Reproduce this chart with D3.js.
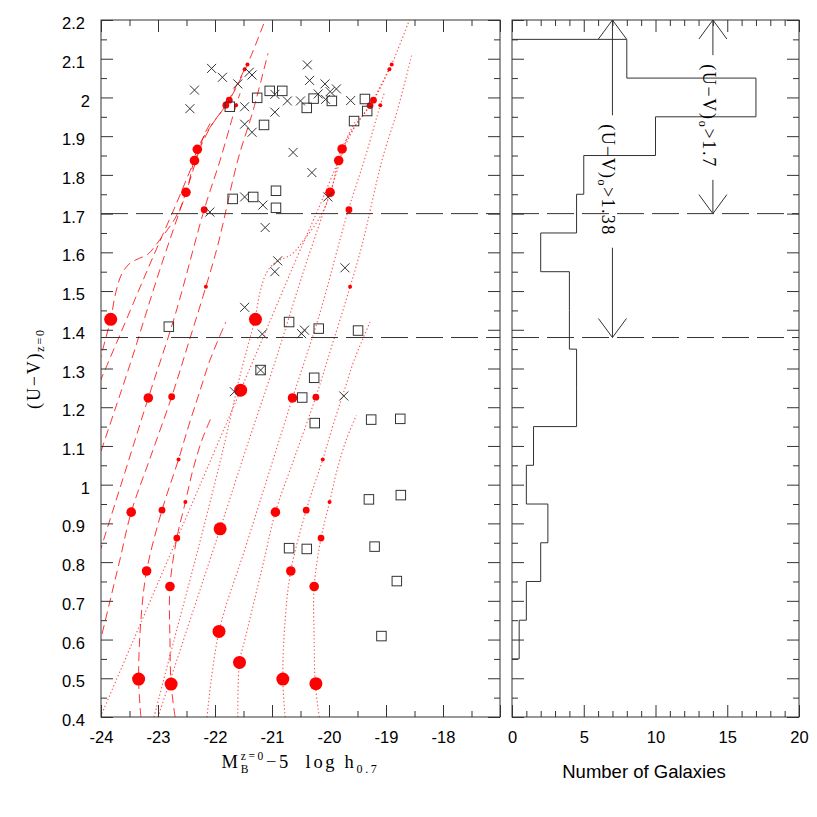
<!DOCTYPE html>
<html><head><meta charset="utf-8">
<script src="https://cdn.jsdelivr.net/npm/d3@7"></script>
<style>body{margin:0;background:#fff} text{white-space:pre}</style>
</head><body>
<svg id="c" width="817" height="817"></svg>
<script>
// ---------------- DATA ----------------
const xTickLabels = [-24,-23,-22,-21,-20,-19,-18];
const yTickLabels = [0.4,0.5,0.6,0.7,0.8,0.9,1,1.1,1.2,1.3,1.4,1.5,1.6,1.7,1.8,1.9,2,2.1,2.2];
const countTickLabels = [0,5,10,15,20];
const colorCuts = [1.38, 1.7];

// model tracks (long-dashed)
const dashedTrack1 = [[-22.70,0.40],[-22.77,0.485],[-22.79,0.598],[-22.79,0.737],[-22.67,0.862],[-22.52,0.955],[-22.39,1.037],[-22.23,1.115],[-22.05,1.179]];
const dashedTrack2 = [[-23.30,0.40],[-23.34,0.498],[-23.30,0.650],[-23.20,0.777],[-22.93,0.934],[-22.64,1.065],[-22.46,1.153],[-22.26,1.244],[-22.09,1.321],[-21.81,1.420]];
const dashedTrack3 = [[-24.13,0.40],[-24.10,0.541],[-24.00,0.603],[-23.84,0.701],[-23.67,0.805],[-23.47,0.929],[-23.14,1.068],[-22.76,1.227],[-22.47,1.363],[-22.16,1.511],[-21.95,1.619],[-21.60,1.838],[-21.33,1.967],[-21.07,2.114]];
const dashedTrack4 = [[-24.67,0.40],[-24.46,0.621],[-24.00,0.836],[-23.58,1.032],[-23.17,1.224],[-22.70,1.438],[-22.19,1.710],[-21.91,1.838],[-21.63,1.980],[-21.56,2.011]];
const dashedTrack5 = [[-25.53,0.40],[-24.44,0.886],[-24.00,1.086],[-23.49,1.311],[-22.97,1.554],[-22.51,1.755],[-22.33,1.838],[-22.19,1.903],[-22.05,1.942]];
const dashedTrack6 = [[-26.54,0.40],[-24.08,1.244],[-24.00,1.272],[-23.67,1.386],[-23.32,1.508],[-23.02,1.611],[-22.68,1.725],[-22.36,1.837],[-22.09,1.921],[-21.81,1.980],[-21.48,2.073]];
const dashedTrack7 = [[-25.60,0.40],[-25.25,0.598],[-24.81,0.843],[-24.37,1.102],[-24.11,1.270],[-23.95,1.360],[-23.83,1.427],[-23.74,1.497],[-23.63,1.546],[-23.49,1.572],[-23.32,1.585],[-23.18,1.595],[-22.97,1.632],[-22.70,1.688],[-22.51,1.750],[-22.31,1.866],[-22.05,1.931],[-21.75,1.993],[-21.43,2.086],[-21.11,2.204]];

// model tracks (dotted)
const dottedTrack1 = [[-20.17,0.40],[-20.24,0.485],[-20.26,0.598],[-20.26,0.737],[-20.14,0.862],[-19.99,0.955],[-19.86,1.037],[-19.70,1.115],[-19.52,1.179]];
const dottedTrack2 = [[-20.77,0.40],[-20.81,0.498],[-20.77,0.650],[-20.67,0.777],[-20.40,0.934],[-20.11,1.065],[-19.93,1.153],[-19.73,1.244],[-19.56,1.321],[-19.28,1.420]];
const dottedTrack3 = [[-21.60,0.40],[-21.57,0.541],[-21.47,0.603],[-21.31,0.701],[-21.14,0.805],[-20.94,0.929],[-20.61,1.068],[-20.23,1.227],[-19.94,1.363],[-19.63,1.511],[-19.42,1.619],[-19.07,1.838],[-18.80,1.967],[-18.54,2.114]];
const dottedTrack4 = [[-22.14,0.40],[-21.93,0.621],[-21.47,0.836],[-21.05,1.032],[-20.64,1.224],[-20.17,1.438],[-19.66,1.710],[-19.38,1.838],[-19.10,1.980],[-19.03,2.011]];
const dottedTrack5 = [[-23.00,0.40],[-21.91,0.886],[-21.47,1.086],[-20.96,1.311],[-20.44,1.554],[-19.98,1.755],[-19.80,1.838],[-19.66,1.903],[-19.52,1.942]];
const dottedTrack6 = [[-24.01,0.40],[-21.55,1.244],[-21.47,1.272],[-21.14,1.386],[-20.79,1.508],[-20.49,1.611],[-20.15,1.725],[-19.83,1.837],[-19.56,1.921],[-19.28,1.980],[-18.95,2.073]];
const dottedTrack7 = [[-23.07,0.40],[-22.72,0.598],[-22.28,0.843],[-21.84,1.102],[-21.58,1.270],[-21.42,1.360],[-21.30,1.427],[-21.21,1.497],[-21.10,1.546],[-20.96,1.572],[-20.79,1.585],[-20.65,1.595],[-20.44,1.632],[-20.17,1.688],[-19.98,1.750],[-19.78,1.866],[-19.52,1.931],[-19.22,1.993],[-18.90,2.086],[-18.58,2.204]];

// model points on the tracks: [M, colour, stage]  (stage 0 = largest symbol)
const dashedModelPoints = [
  [-22.77,0.485,0],[-22.79,0.737,1],[-22.67,0.862,2],[-22.52,0.955,3],
  [-23.34,0.498,0],[-23.20,0.777,1],[-22.93,0.934,2],[-22.64,1.065,3],
  [-23.47,0.929,1],[-22.76,1.227,2],[-22.16,1.511,3],
  [-23.17,1.224,1],[-22.19,1.710,2],[-21.63,1.980,3],
  [-22.51,1.755,1],
  [-22.36,1.837,1],[-21.81,1.980,2],[-21.48,2.073,3],
  [-23.83,1.427,0],[-22.31,1.866,1],[-21.75,1.993,2],[-21.43,2.085,3]];
const dottedModelPoints = [
  [-20.23,0.486,0],[-20.26,0.737,1],[-20.14,0.862,2],[-19.99,0.955,3],
  [-20.81,0.498,0],[-20.67,0.777,1],[-20.40,0.934,2],[-20.11,1.065,3],
  [-21.57,0.541,0],[-20.94,0.929,1],[-20.23,1.226,2],[-19.63,1.511,3],
  [-21.93,0.621,0],[-20.64,1.224,1],[-19.65,1.710,2],[-19.10,1.980,3],
  [-21.91,0.886,0],[-19.98,1.755,1],
  [-21.55,1.244,0],[-19.83,1.837,1],[-19.28,1.979,2],[-18.94,2.073,3],
  [-21.29,1.427,0],[-19.77,1.867,1],[-19.22,1.993,2],[-18.90,2.085,3]];

// galaxies shown as crosses
const crossGalaxies = [
  [-22.06,2.075],[-21.87,2.052],[-22.36,2.019],[-22.44,1.971],[-21.60,2.035],[-21.40,2.065],[-21.35,2.058],
  [-21.48,1.976],[-20.95,2.008],[-20.73,1.991],[-20.50,1.991],[-20.95,1.962],[-21.48,1.931],[-21.35,1.910],
  [-20.63,1.858],[-21.48,1.743],[-21.16,1.722],[-22.09,1.704],[-21.12,1.664],
  [-20.38,2.084],[-20.34,2.044],[-20.07,2.035],[-19.87,2.022],[-19.98,2.015],[-20.19,2.009],
  [-20.06,1.995],[-19.62,1.992],[-20.30,1.806],[-20.02,1.743],
  [-20.90,1.578],[-20.95,1.550],[-21.48,1.458],[-21.17,1.389],[-21.20,1.296],[-21.66,1.240],
  [-19.72,1.560],[-20.43,1.399],[-20.48,1.390],[-19.74,1.229]];
// galaxies shown as open squares
const squareGalaxies = [
  [-21.74,1.976],[-21.26,1.999],[-21.04,2.017],[-20.82,2.017],[-21.14,1.929],[-21.69,1.738],[-21.33,1.743],
  [-20.93,1.759],[-20.93,1.715],[-20.27,1.997],[-20.39,1.973],[-19.95,1.991],[-19.37,1.996],[-19.33,1.965],
  [-19.56,1.939],[-22.81,1.408],[-20.70,1.420],[-21.20,1.296],[-20.18,1.403],[-19.49,1.398],[-20.26,1.276],
  [-20.47,1.225],[-20.25,1.159],[-19.26,1.168],[-18.75,1.170],[-19.30,0.962],[-18.74,0.973],[-20.39,0.834],
  [-20.70,0.836],[-19.20,0.840],[-18.81,0.751],[-19.08,0.609]];

// colour histogram (bins 0.1 wide, lower edges)
const histBinLow = [0.55,0.65,0.75,0.85,0.95,1.05,1.15,1.25,1.35,1.45,1.55,1.65,1.75,1.85,1.95,2.05];
const histCounts = [0.5,1,2,2.5,1,1.5,4.5,4.5,4,4,2,4.5,5,10,17,8];
const histBinWidth = 0.1;

// arrows marking the red-sequence selections
const arrowCounts = [7, 14];
const arrowCuts = [1.38, 1.7];
const arrowTexts = ["1.38", "1.7"];

// ---------------- DRAW ----------------
const svg = d3.select("#c");
const INK = "#333";
const RED = "#ff0000";
const SANS = "'Liberation Sans', Arial, Helvetica, sans-serif";
const SERIF = "'Liberation Serif', 'Times New Roman', serif";

const x = d3.scaleLinear().domain([-24,-17]).range([101,500]);
const y = d3.scaleLinear().domain([0.4,2.2]).range([717,20]);
const xc = d3.scaleLinear().domain([0,20]).range([512,799]);
const r = d3.scaleOrdinal().domain([0,1,2,3]).range([6.5,4.8,3.4,2]);

svg.append("clipPath").attr("id","clipL").append("rect")
  .attr("x",x.range()[0]).attr("y",y.range()[1])
  .attr("width",x.range()[1]-x.range()[0]).attr("height",y.range()[0]-y.range()[1]);

const gL = svg.append("g").attr("clip-path","url(#clipL)");
const line = d3.line().x(d=>x(d[0])).y(d=>y(d[1])).curve(d3.curveCatmullRom.alpha(0.5));

const dashedTracks = [dashedTrack1,dashedTrack2,dashedTrack3,dashedTrack4,dashedTrack5,dashedTrack6,dashedTrack7];
const dottedTracks = [dottedTrack1,dottedTrack2,dottedTrack3,dottedTrack4,dottedTrack5,dottedTrack6,dottedTrack7];

gL.selectAll("path.dash").data(dashedTracks).join("path").attr("class","dash")
  .attr("d",line).attr("fill","none").attr("stroke",RED).attr("stroke-opacity",0.8)
  .attr("stroke-width",1).attr("stroke-dasharray","9,5");
gL.selectAll("path.dot").data(dottedTracks).join("path").attr("class","dot")
  .attr("d",line).attr("fill","none").attr("stroke",RED).attr("stroke-opacity",0.7)
  .attr("stroke-width",1.1).attr("stroke-dasharray","1.3,2.4");

// colour cuts (both panels)
[x, xc].forEach(sx=>{
  svg.append("g").selectAll("line").data(colorCuts).join("line")
    .attr("x1",sx.range()[0]).attr("x2",sx.range()[1])
    .attr("y1",d=>y(d)).attr("y2",d=>y(d))
    .attr("stroke",INK).attr("stroke-width",1).attr("stroke-dasharray","27,8");
});

gL.selectAll("circle.m").data(dashedModelPoints.concat(dottedModelPoints)).join("circle")
  .attr("class","m").attr("cx",d=>x(d[0])).attr("cy",d=>y(d[1])).attr("r",d=>r(d[2])).attr("fill",RED);

gL.selectAll("path.cross").data(crossGalaxies).join("path").attr("class","cross")
  .attr("transform",d=>`translate(${x(d[0])},${y(d[1])})`)
  .attr("d","M-4.5,-4.5L4.5,4.5M-4.5,4.5L4.5,-4.5").attr("stroke",INK).attr("stroke-width",1).attr("fill","none");
gL.selectAll("rect.sq").data(squareGalaxies).join("rect").attr("class","sq")
  .attr("x",d=>x(d[0])-4.75).attr("y",d=>y(d[1])-4.75).attr("width",9.5).attr("height",9.5)
  .attr("fill","none").attr("stroke",INK).attr("stroke-width",1);

// histogram step line
const steps = [];
for (let i = histBinLow.length-1; i >= 0; i--) {
  const lo = histBinLow[i], hi = histBinLow[i]+histBinWidth, c = histCounts[i];
  if (i === histBinLow.length-1) steps.push([0, hi]);
  steps.push([c, hi]); steps.push([c, lo]);
  if (i === 0) steps.push([0, lo]);
}
svg.append("path").datum(steps)
  .attr("d", d3.line().x(d=>xc(d[0])).y(d=>y(d[1])))
  .attr("fill","none").attr("stroke",INK).attr("stroke-width",1);

// frames
[x, xc].forEach(sx=>{
  svg.append("rect").attr("x",sx.range()[0]).attr("y",y.range()[1])
    .attr("width",sx.range()[1]-sx.range()[0]).attr("height",y.range()[0]-y.range()[1])
    .attr("fill","none").attr("stroke",INK).attr("stroke-width",1);
});

// tick marks (inward, all four sides)
function tickMarks(axisFn, scale, values, size, tx, ty) {
  const g = svg.append("g").attr("transform",`translate(${tx},${ty})`)
    .call(axisFn(scale).tickValues(values).tickSize(size).tickFormat(""));
  g.select(".domain").remove();
  g.selectAll("line").attr("stroke",INK);
}
const xMajor = d3.range(-24,-16.99,1), xMinor = d3.range(-23.5,-17,1);
const yMajor = d3.range(4,23,1).map(v=>v/10), yMinor = d3.range(4.5,22,1).map(v=>v/10);
const cMajor = [0,5,10,15,20], cMinor = d3.range(1,20,1).filter(v=>v%5);
[[x,xMajor,xMinor],[xc,cMajor,cMinor]].forEach(([sx,maj,min])=>{
  tickMarks(d3.axisBottom, sx, maj, -12, 0, y.range()[0]);
  tickMarks(d3.axisBottom, sx, min, -6, 0, y.range()[0]);
  tickMarks(d3.axisTop, sx, maj, -12, 0, y.range()[1]);
  tickMarks(d3.axisTop, sx, min, -6, 0, y.range()[1]);
  tickMarks(d3.axisLeft, y, yMajor, -12, sx.range()[0], 0);
  tickMarks(d3.axisLeft, y, yMinor, -6, sx.range()[0], 0);
  tickMarks(d3.axisRight, y, yMajor, -12, sx.range()[1], 0);
  tickMarks(d3.axisRight, y, yMinor, -6, sx.range()[1], 0);
});

// tick labels
function styleLabels(g){ g.select(".domain").remove(); g.attr("font-family",SANS).attr("font-size",16.5);
  g.selectAll("text").attr("fill","#000"); }
svg.append("g").attr("transform",`translate(0,${y.range()[0]})`)
  .call(d3.axisBottom(x).tickValues(xTickLabels).tickSize(0).tickPadding(14.5).tickFormat(d=>String(d)))
  .call(styleLabels);
svg.append("g").attr("transform",`translate(0,${y.range()[0]})`)
  .call(d3.axisBottom(xc).tickValues(countTickLabels).tickSize(0).tickPadding(14.5).tickFormat(d=>String(d)))
  .call(styleLabels);
svg.append("g").attr("transform",`translate(${x.range()[0]},0)`)
  .call(d3.axisLeft(y).tickValues(yTickLabels).tickSize(0).tickFormat(d=>String(d)))
  .call(styleLabels)
  .call(g=>g.selectAll("text").attr("x",d=>Number.isInteger(d)?-11:-16).attr("dy","0.52em"));

// helper: stretch text to a target width with letter-spacing
function fit(t, target){
  const n = t.text().length;
  const w = t.node().getComputedTextLength();
  t.style("letter-spacing", ((target-w)/Math.max(n-1,1))+"px");
}

// x-axis title (left panel)
function buildXTitle(ls){
  const t = svg.append("text").attr("font-family",SERIF).attr("font-size",18.5).attr("fill","#000")
    .attr("x",0).attr("y",768).style("letter-spacing",ls+"px");
  t.append("tspan").text("M");
  const sup = t.append("tspan").attr("font-size",11.5).attr("dy",-8.5).text("z=0");
  const supW = sup.node().getComputedTextLength();
  const sub = t.append("tspan").attr("font-size",11.5).attr("dx",-supW).attr("dy",13).text("B");
  const subW = sub.node().getComputedTextLength();
  t.append("tspan").attr("dx",supW-subW).attr("dy",-4.5).text("\u22125  log h");
  t.append("tspan").attr("font-size",12).attr("dy",4.5).text("0.7");
  return t;
}
{
  let t = buildXTitle(0.3);
  const w0 = t.node().getBBox().width;
  t.remove();
  t = buildXTitle(0.3 + (158 - w0)/16);
  const bb = t.node().getBBox();
  t.attr("x", (x.range()[0]+x.range()[1])/2 - bb.width/2);
}
// x-axis title (right panel)
svg.append("text").attr("font-family",SANS).attr("font-size",18.5).attr("fill","#000")
  .attr("x",644).attr("y",778).attr("text-anchor","middle").text("Number of Galaxies");

// y-axis title
{
  const t = svg.append("text").attr("font-family",SERIF).attr("font-size",18).attr("fill","#000")
    .attr("text-anchor","middle").attr("transform",`translate(40,${(y.range()[0]+y.range()[1])/2}) rotate(-90)`);
  t.append("tspan").text("(U\u2212V)");
  t.append("tspan").attr("font-size",12).attr("dy",4).text("z=0");
  fit(t, 79);
}

// arrows + labels in histogram panel
const textCentres = [180, 116];
arrowCounts.forEach((c,i)=>{
  const ax = xc(c), y0 = y.range()[1], y1 = y(arrowCuts[i]);
  const t = svg.append("text").attr("font-family",SERIF).attr("font-size",18).attr("fill","#000")
    .attr("text-anchor","middle").attr("transform",`translate(${ax-10},${textCentres[i]}) rotate(90)`);
  t.append("tspan").text("(U\u2212V)");
  t.append("tspan").attr("font-size",12).attr("dy",4).text("o");
  t.append("tspan").attr("dy",-4).text(">"+arrowTexts[i]);
  fit(t, i===0?110:102);
  const half = t.node().getBBox().width/2;
  const g = svg.append("g").attr("stroke",INK).attr("stroke-width",1).attr("fill","none");
  g.append("line").attr("x1",ax).attr("x2",ax).attr("y1",y0).attr("y2",textCentres[i]-half-9);
  g.append("line").attr("x1",ax).attr("x2",ax).attr("y1",textCentres[i]+half+12).attr("y2",y1);
  g.append("path").attr("d",`M${ax-14},${y0+19}L${ax},${y0}L${ax+14},${y0+19}`);
  g.append("path").attr("d",`M${ax-14},${y1-19}L${ax},${y1}L${ax+14},${y1-19}`);
});
</script>
</body></html>
